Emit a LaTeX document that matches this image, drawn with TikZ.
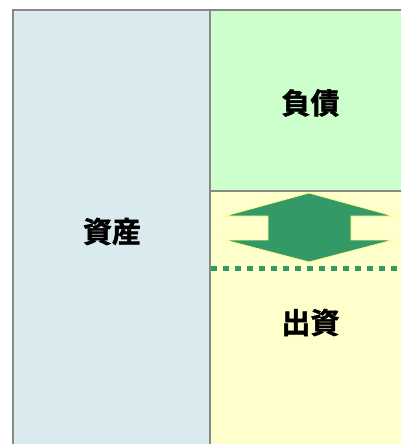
\documentclass[tikz,border=0pt]{standalone}
\usepackage{fontspec}
\newfontfamily\cjk[FakeBold=1.6]{Noto Sans CJK JP Bold}
\definecolor{asset}{HTML}{DAEBEF}
\definecolor{debt}{HTML}{CCFFCC}
\definecolor{equity}{HTML}{FFFFCC}
\definecolor{arrowgreen}{HTML}{339966}
\definecolor{edge}{HTML}{888888}
\definecolor{glow}{HTML}{FFFF88}
\begin{document}
\begin{tikzpicture}[x=1pt,y=-1pt,
  box/.style={draw=edge,line width=1.3pt},
  lbl/.style={font=\cjk\fontsize{29}{29}\selectfont,text=black,inner sep=0pt}]
\useasboundingbox (0,0) rectangle (401,444);
\clip (0,0) rectangle (401,444);
\fill[white] (0,0) rectangle (401,444);
\draw[box,fill=asset] (13,10) rectangle (210,450);
\draw[box,fill=debt] (210,10) rectangle (410,191);
\draw[box,fill=equity] (210,191) rectangle (410,450);
\draw[fill=arrowgreen,draw=glow,line width=0.8pt,line join=miter]
  (309,193) -- (393,216) -- (351,216) -- (351,240) -- (393,240) -- (309,262)
  -- (225,240) -- (268,240) -- (268,216) -- (225,216) -- cycle;
\coordinate (dl) at (211,268.5);
\coordinate (dr) at (401,268.5);
\draw[arrowgreen,line width=5.6pt,dash pattern=on 5.7pt off 6.3pt] (dl) -- (dr);
\node[lbl] (assets) at (112,231.5) {資産};
\node[lbl] (debts) at (310.5,103) {負債};
\node[lbl] (capital) at (310.5,322.5) {出資};
\end{tikzpicture}
\end{document}
